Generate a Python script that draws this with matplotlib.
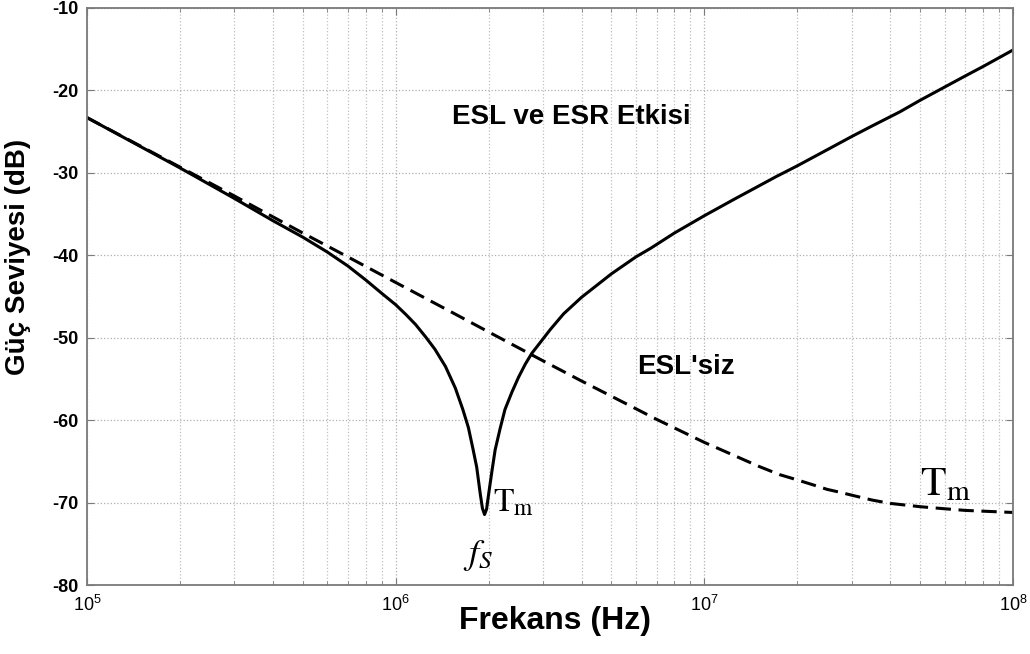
import numpy as np
import matplotlib
matplotlib.use("Agg")
import matplotlib.pyplot as plt
from matplotlib.ticker import LogLocator, FixedLocator, NullFormatter

plt.rcParams['font.family'] = ['Liberation Sans', 'DejaVu Sans']
plt.rcParams['axes.unicode_minus'] = False
plt.rcParams['mathtext.fontset'] = 'custom'
plt.rcParams['mathtext.rm'] = 'Liberation Sans'
plt.rcParams['mathtext.it'] = 'Liberation Sans:italic'
plt.rcParams['mathtext.bf'] = 'Liberation Sans:bold'

# ESL + ESR (solid)
freq_esl = [1e5, 2e5, 3e5, 4e5, 5e5, 6e5, 7e5, 8e5, 9e5, 1e6,
            1.08e6, 1.16e6, 1.25e6, 1.34e6, 1.45e6, 1.56e6, 1.65e6, 1.72e6,
            1.78e6, 1.83e6, 1.88e6, 1.91e6, 1.94e6, 1.97e6, 2.0e6, 2.05e6,
            2.1e6, 2.18e6, 2.26e6, 2.38e6, 2.5e6, 2.63e6, 2.76e6, 3.17e6,
            3.5e6, 4e6, 5e6, 6e6, 6.7e6, 8e6, 1e7, 1.25e7, 1.5e7, 1.7e7,
            2e7, 2.5e7, 3e7, 3.5e7, 4.3e7, 5e7, 6e7, 7e7, 8e7, 1e8]
db_esl = [-23.3, -29.4, -33.1, -35.8, -37.8, -39.6, -41.3, -43.0, -44.6, -46.0,
          -47.2, -48.4, -49.9, -51.4, -53.5, -56.1, -58.7, -60.9,
          -63.5, -65.7, -69.0, -70.7, -71.45, -70.8, -69.0, -66.2,
          -63.6, -61.0, -58.7, -56.6, -54.8, -53.2, -51.9, -49.0,
          -47.1, -45.1, -42.25, -40.2, -39.15, -37.3, -35.2, -33.2, -31.6, -30.5,
          -29.15, -27.2, -25.6, -24.3, -22.6, -21.2, -19.6, -18.25, -17.1, -15.1]

# without ESL (dashed)
freq_noesl = [1e5, 2e5, 3e5, 5e5, 7e5, 1e6, 1.5e6, 2e6, 3e6, 4e6, 5e6, 7e6,
              1e7, 1.2e7, 1.5e7, 1.75e7, 2e7, 2.25e7, 2.5e7, 2.75e7, 3e7, 3.5e7,
              4e7, 5e7, 6e7, 7e7, 1e8]
db_noesl = [-23.3, -29.3, -32.8, -37.3, -40.2, -43.3, -46.8, -49.3, -52.8, -55.25,
            -57.1, -59.9, -62.7, -64.0, -65.6, -66.6, -67.25, -67.85, -68.4, -68.75,
            -69.1, -69.7, -70.1, -70.5, -70.75, -70.95, -71.2]

yticks = [-80, -70, -60, -50, -40, -30, -20, -10]

fig = plt.figure(figsize=(10.3, 6.54), dpi=100)
ax = fig.add_axes([0.0845, 0.1055, 0.899, 0.8823])

ax.plot(freq_esl, db_esl, color='black', lw=2.2, solid_joinstyle='round')
ax.plot(freq_noesl, db_noesl, color='black', lw=2.2, ls=(0, (5, 2.5)))

ax.set_xscale('log')
ax.set_xlim(1e5, 1e8)
ax.set_ylim(-80, -10)
ax.yaxis.set_major_locator(FixedLocator(yticks))
ax.xaxis.set_major_locator(LogLocator(base=10, numticks=10))
ax.xaxis.set_minor_locator(LogLocator(base=10, subs=np.arange(2, 10), numticks=100))
ax.xaxis.set_minor_formatter(NullFormatter())

ax.grid(True, which='major', ls=':', color='#b0b0b0', lw=0.9)
ax.grid(True, which='minor', axis='x', ls=':', color='#c0c0c0', lw=0.9)

for sp in ax.spines.values():
    sp.set_color('#7a7a7a')
    sp.set_linewidth(1.3)
ax.tick_params(which='both', direction='in', top=True, right=True, color='#7a7a7a')
ax.tick_params(which='major', length=5)
ax.tick_params(which='minor', length=3)
ax.tick_params(axis='y', labelsize=13, pad=6)
ax.tick_params(axis='x', labelsize=13, pad=7)
for lb in ax.get_yticklabels():
    lb.set_fontweight('bold')

ax.set_xlabel('Frekans (Hz)', fontsize=23, fontweight='bold')
ax.xaxis.set_label_coords(0.505, -0.036)
ax.set_ylabel('Güç Seviyesi (dB)', fontsize=20, fontweight='bold')
ax.yaxis.set_label_coords(-0.061, 0.568)

ax.text(1.52e6, -23.2, 'ESL ve ESR Etkisi', fontsize=20, fontweight='bold', va='center')
ax.text(6.07e6, -53.5, "ESL'siz", fontsize=20, fontweight='bold', va='center')
ax.text(2.07e6, -71.1, r'$\mathrm{T}_{\mathrm{m}}$', fontsize=24, math_fontfamily='stix', va='baseline')
ax.text(5.0e7, -69.15, r'$\mathrm{T}_{\mathrm{m}}$', fontsize=30, math_fontfamily='stix', va='baseline')
ax.text(1.85e6, -77.4, r'$f_S$', fontsize=26, math_fontfamily='stix', ha='center', va='baseline')

fig.savefig('out.png', dpi=100)
